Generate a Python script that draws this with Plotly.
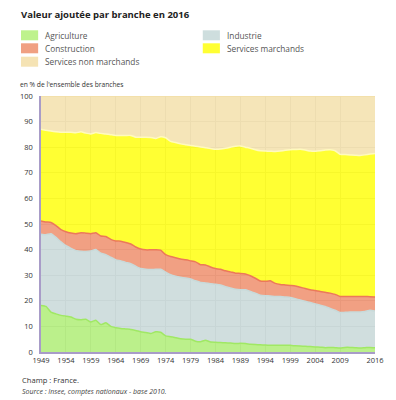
import plotly.graph_objects as go

years = list(range(1949, 2017))

agriculture = [18.2, 17.8, 15.6, 14.9, 14.3, 14.0, 13.7, 12.8, 12.6, 12.8,
               11.7, 12.4, 10.7, 11.4, 10.0, 9.5, 9.2, 9.0, 8.8, 8.4,
               7.9, 7.6, 7.2, 7.9, 7.7, 6.3, 6.0, 5.6, 5.2, 5.0,
               5.0, 4.2, 4.0, 4.6, 3.9, 3.8, 3.7, 3.6, 3.5, 3.3,
               3.4, 3.3, 3.0, 2.9, 2.8, 2.7, 2.6, 2.6, 2.6, 2.6,
               2.6, 2.4, 2.3, 2.2, 2.1, 2.0, 1.9, 1.7, 1.8, 1.7,
               1.6, 1.8, 1.8, 1.7, 1.6, 1.7, 1.8, 1.7]

industrie = [27.8, 28.0, 30.6, 29.9, 28.7, 27.5, 26.8, 26.8, 26.8, 26.5,
             27.8, 27.6, 27.9, 26.6, 27.0, 26.5, 26.4, 26.0, 25.7, 25.1,
             24.7, 24.7, 25.0, 24.4, 24.6, 24.9, 24.2, 24.0, 24.0, 23.9,
             23.5, 23.6, 23.2, 22.4, 22.8, 22.7, 22.5, 21.9, 21.5, 21.2,
             20.9, 21.0, 20.6, 20.1, 19.4, 19.3, 19.3, 19.1, 19.1, 18.9,
             18.7, 18.4, 18.0, 17.6, 17.2, 16.8, 16.4, 16.1, 15.2, 14.6,
             13.8, 13.7, 13.8, 13.9, 14.0, 14.1, 14.5, 14.3]

construction = [5.2, 5.0, 4.4, 4.6, 4.8, 5.5, 6.0, 6.6, 7.2, 7.1,
                6.7, 6.6, 6.7, 7.1, 7.0, 7.4, 7.7, 7.8, 7.7, 7.5,
                7.6, 7.6, 7.7, 7.6, 7.5, 6.8, 7.1, 7.2, 7.1, 7.1,
                7.1, 7.4, 6.9, 7.0, 6.5, 6.1, 6.1, 6.2, 6.3, 6.3,
                6.4, 6.2, 6.2, 5.8, 5.5, 5.6, 5.9, 5.1, 4.7, 4.7,
                4.7, 5.0, 5.0, 5.0, 5.0, 5.2, 5.3, 5.5, 6.0, 6.2,
                6.3, 6.2, 6.1, 6.1, 6.1, 5.9, 5.3, 5.5]

services_marchands = [35.8, 35.8, 35.7, 36.6, 38.0, 38.8, 39.3, 39.4, 39.4, 39.1,
                      39.0, 39.1, 40.1, 40.1, 40.9, 41.2, 41.3, 41.8, 42.4, 42.9,
                      43.7, 44.0, 43.9, 43.5, 44.3, 45.7, 45.0, 45.0, 45.0, 45.0,
                      45.1, 45.2, 46.0, 45.8, 46.3, 46.6, 47.0, 47.9, 48.7, 49.6,
                      49.8, 49.5, 49.8, 50.2, 50.9, 50.9, 50.6, 51.5, 52.1, 52.6,
                      53.0, 53.3, 53.9, 54.1, 54.2, 54.4, 55.0, 55.6, 56.0, 56.1,
                      55.5, 55.4, 55.3, 55.2, 55.1, 55.3, 55.7, 56.0]

services_non_marchands = [13.0, 13.4, 13.7, 14.0, 14.2, 14.2, 14.2, 14.4, 14.0, 14.5,
                          14.8, 14.3, 14.6, 14.8, 15.1, 15.4, 15.4, 15.4, 15.4, 16.1,
                          16.1, 16.1, 16.2, 16.6, 15.9, 16.3, 17.7, 18.2, 18.7, 19.0,
                          19.3, 19.6, 19.9, 20.2, 20.5, 20.8, 20.7, 20.4, 20.0, 19.6,
                          19.5, 20.0, 20.4, 21.0, 21.4, 21.5, 21.6, 21.7, 21.5, 21.2,
                          21.0, 20.9, 20.8, 21.1, 21.5, 21.6, 21.4, 21.1, 21.0, 21.4,
                          22.8, 22.9, 23.0, 23.1, 23.2, 23.0, 22.7, 22.5]

x_tickvals = [1949, 1954, 1959, 1964, 1969, 1974, 1979, 1984, 1989, 1994, 1999, 2004, 2009, 2016]
y_tickvals = [0, 10, 20, 30, 40, 50, 60, 70, 80, 90, 100]

series = [
    ("Agriculture", agriculture, "rgba(170,236,110,0.8)", "rgb(160,232,100)"),
    ("Industrie", industrie, "rgba(196,214,214,0.8)", "rgb(200,218,218)"),
    ("Construction", construction, "rgba(238,136,100,0.8)", "rgb(236,120,90)"),
    ("Services marchands", services_marchands, "rgba(255,255,0,0.8)", "rgb(255,250,190)"),
    ("Services non marchands", services_non_marchands, "rgba(242,222,166,0.8)", "rgb(242,222,166)"),
]

fig = go.Figure()
for name, vals, fill, line in series:
    fig.add_trace(go.Scatter(
        x=years, y=vals, name=name, mode="lines",
        stackgroup="one", fillcolor=fill,
        line=dict(color=line, width=1.5, shape="spline", smoothing=0.4),
        showlegend=False,
    ))

FONT = "Open Sans, Noto Sans, sans-serif"

# page body has an 8px margin: the figure starts at (8, 8)
OFF = 8
W, H = 396 - OFF, 400 - OFF
L, T = 31 - OFF, 96 - OFF
R = W - (382 - OFF)
B = H - (352 - OFF)
pw, ph = W - L - R, H - T - B


def px(x):
    return (x - OFF - L) / pw


def py(y):
    return 1 - (y - OFF - T) / ph


shapes = []
annotations = []

annotations.append(dict(text="<b>Valeur ajoutée par branche en 2016</b>", x=px(8), y=py(14),
                        xref="paper", yref="paper", xanchor="left", yanchor="middle",
                        showarrow=False, font=dict(family=FONT, size=9.5, color="#222")))

legend_pos = [
    (10, 35.3), (201, 35.3),
    (10, 48.3), (201, 48.3),
    (10, 61.7),
]
legend_colors = ["rgb(190,242,140)", "rgb(206,222,222)", "rgb(240,160,130)",
                 "rgb(255,255,51)", "rgb(245,227,180)"]
for idx, (lx, ly) in enumerate(legend_pos):
    name = series[idx][0]
    shapes.append(dict(type="rect", xref="paper", yref="paper",
                       x0=px(lx), x1=px(lx + 18), y0=py(ly - 5), y1=py(ly + 5),
                       fillcolor=legend_colors[idx], line=dict(width=0)))
    annotations.append(dict(text=name, x=px(lx + 23), y=py(ly), xref="paper", yref="paper",
                            xanchor="left", yanchor="middle", showarrow=False,
                            font=dict(family=FONT, size=8.3, color="#555")))

annotations.append(dict(text="en % de l'ensemble des branches", x=px(7), y=py(84),
                        xref="paper", yref="paper", xanchor="left", yanchor="middle",
                        showarrow=False, font=dict(family=FONT, size=6.7, color="#333")))
annotations.append(dict(text="Champ : France.", x=px(9), y=py(380),
                        xref="paper", yref="paper", xanchor="left", yanchor="middle",
                        showarrow=False, font=dict(family=FONT, size=7.6, color="#333")))
annotations.append(dict(text="<i>Source : Insee, comptes nationaux - base 2010.</i>", x=px(9), y=py(391),
                        xref="paper", yref="paper", xanchor="left", yanchor="middle",
                        showarrow=False, font=dict(family=FONT, size=7, color="#444")))

fig.update_layout(
    width=W, height=H,
    margin=dict(l=L, r=R, t=T, b=B, pad=0),
    paper_bgcolor="white", plot_bgcolor="white",
    font=dict(family=FONT, size=7.5, color="#333"),
    showlegend=False,
    shapes=shapes,
    annotations=annotations,
    xaxis=dict(range=[1949, 2016], tickvals=x_tickvals, ticktext=[str(v) for v in x_tickvals],
               showgrid=True, gridcolor="#d8d8d8", gridwidth=1,
               showline=True, linecolor="#a89cc8", linewidth=1.5,
               ticks="", tickfont=dict(size=7.5, color="#333"), zeroline=False,
               fixedrange=True),
    yaxis=dict(range=[0, 100], tickvals=y_tickvals, showgrid=True, gridcolor="#d8d8d8", gridwidth=1,
               showline=True, linecolor="#a89cc8", linewidth=1.5,
               ticks="", ticklabelstandoff=5, tickfont=dict(size=7.5, color="#333"), zeroline=False,
               fixedrange=True),
)

fig.write_html("out.html")
